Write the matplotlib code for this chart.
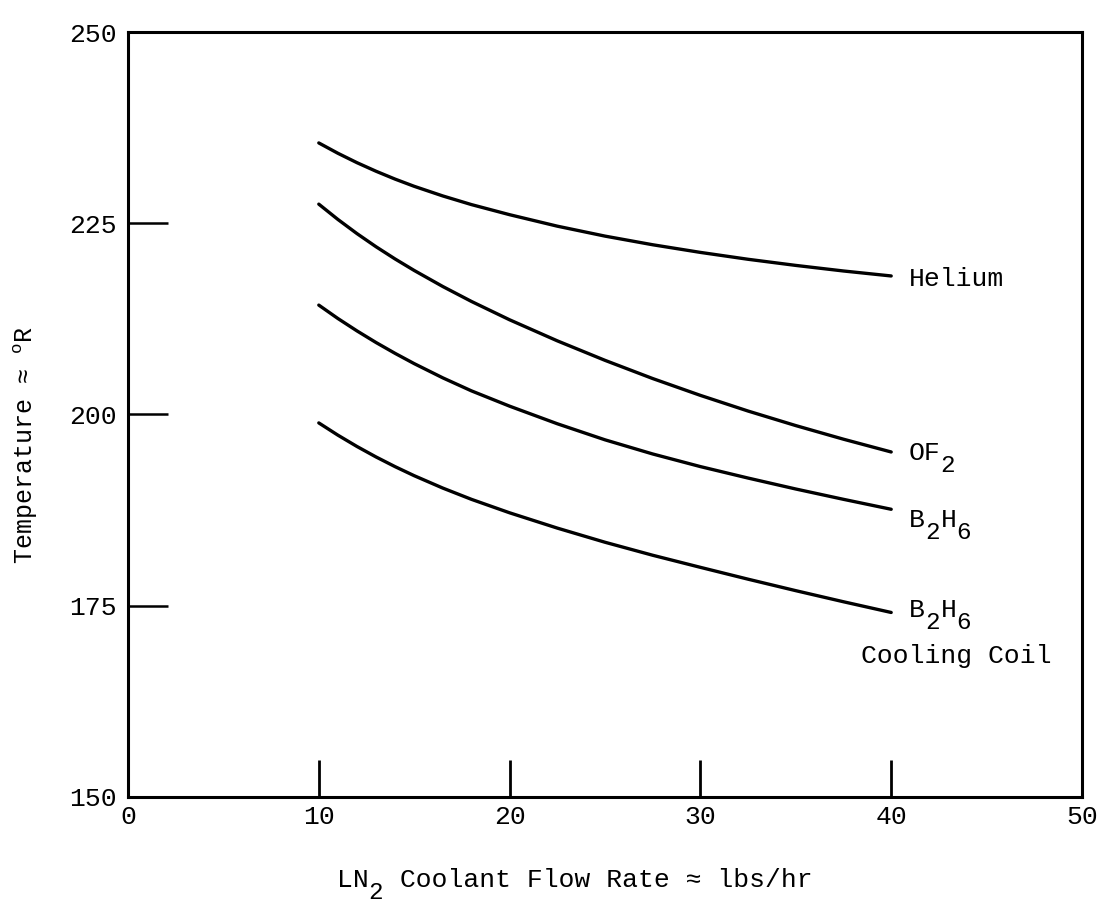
import matplotlib.pyplot as plt
import numpy as np

plt.rcParams['font.family'] = ['Liberation Mono', 'DejaVu Sans Mono']
plt.rcParams['mathtext.fontset'] = 'custom'
plt.rcParams['mathtext.rm'] = 'Liberation Mono'
plt.rcParams['mathtext.it'] = 'Liberation Mono'

# flow rate of LN2 (lbs/hr)
flow = [10, 11, 12, 13, 14, 15, 16.5, 18, 20, 22.5, 25, 27.5, 30, 32.5, 35, 37.5, 40]

# temperatures in deg R
helium = [235.5, 234.15, 232.92, 231.8, 230.77, 229.83, 228.57, 227.44, 226.12,
          224.62, 223.32, 222.19, 221.19, 220.29, 219.49, 218.76, 218.11]
of2 = [227.5, 225.5, 223.65, 221.93, 220.33, 218.83, 216.73, 214.78, 212.38,
       209.63, 207.08, 204.7, 202.5, 200.45, 198.55, 196.77, 195.1]
b2h6 = [214.3, 212.55, 210.93, 209.41, 207.99, 206.65, 204.79, 203.09, 201.09,
        198.79, 196.69, 194.84, 193.19, 191.69, 190.26, 188.91, 187.61]
b2h6_coil = [198.9, 197.3, 195.82, 194.45, 193.18, 192.0, 190.38, 188.91, 187.15,
             185.15, 183.3, 181.6, 180.02, 178.47, 176.97, 175.52, 174.12]

xticks = [0, 10, 20, 30, 40, 50]
yticks = [150, 175, 200, 225, 250]

FS = 19

fig = plt.figure(figsize=(11.11, 9.07), dpi=100)
ax = fig.add_axes([0.1152, 0.1213, 0.8587, 0.8434])

for temps in [helium, of2, b2h6, b2h6_coil]:
    ax.plot(flow, temps, color='black', lw=2.4, solid_capstyle='round')

ax.set_xlim(0, 50)
ax.set_ylim(150, 250)
ax.set_xticks(xticks)
ax.set_yticks(yticks)
ax.tick_params(axis='x', direction='in', length=27, width=2.0, pad=6, labelsize=FS)
ax.tick_params(axis='y', direction='in', length=29, width=1.8, pad=8, labelsize=FS)
for s in ax.spines.values():
    s.set_linewidth(2.2)


def typed(x, y, parts, fs=FS, coords='data'):
    # typewriter style: fixed pitch, subscripts dropped half a line
    dx = 0.0
    for txt, sub in parts:
        ax.annotate(txt, (x, y), xycoords=coords,
                    xytext=(dx, -9 if sub else 0), textcoords='offset points',
                    fontsize=fs * 0.92 if sub else fs, va='center', ha='left',
                    annotation_clip=False)
        dx += len(txt) * 0.6 * fs


typed(40.93, 217.7, [('Helium', False)])
typed(40.93, 195.0, [('OF', False), ('2', True)])
typed(40.93, 186.2, [('B', False), ('2', True), ('H', False), ('6', True)])
typed(40.93, 174.4, [('B', False), ('2', True), ('H', False), ('6', True)])
typed(38.4, 168.4, [('Cooling Coil', False)])

# axis titles
typed(0.219, -0.108, [('LN', False), ('2', True),
                      (' Coolant Flow Rate ≈ lbs/hr', False)], coords='axes fraction')
ax.set_ylabel(r'Temperature ≈ $^{\mathrm{o}}$R', fontsize=18)
ax.yaxis.set_label_coords(-0.092, 0.46)

fig.savefig('out.png', dpi=100)
